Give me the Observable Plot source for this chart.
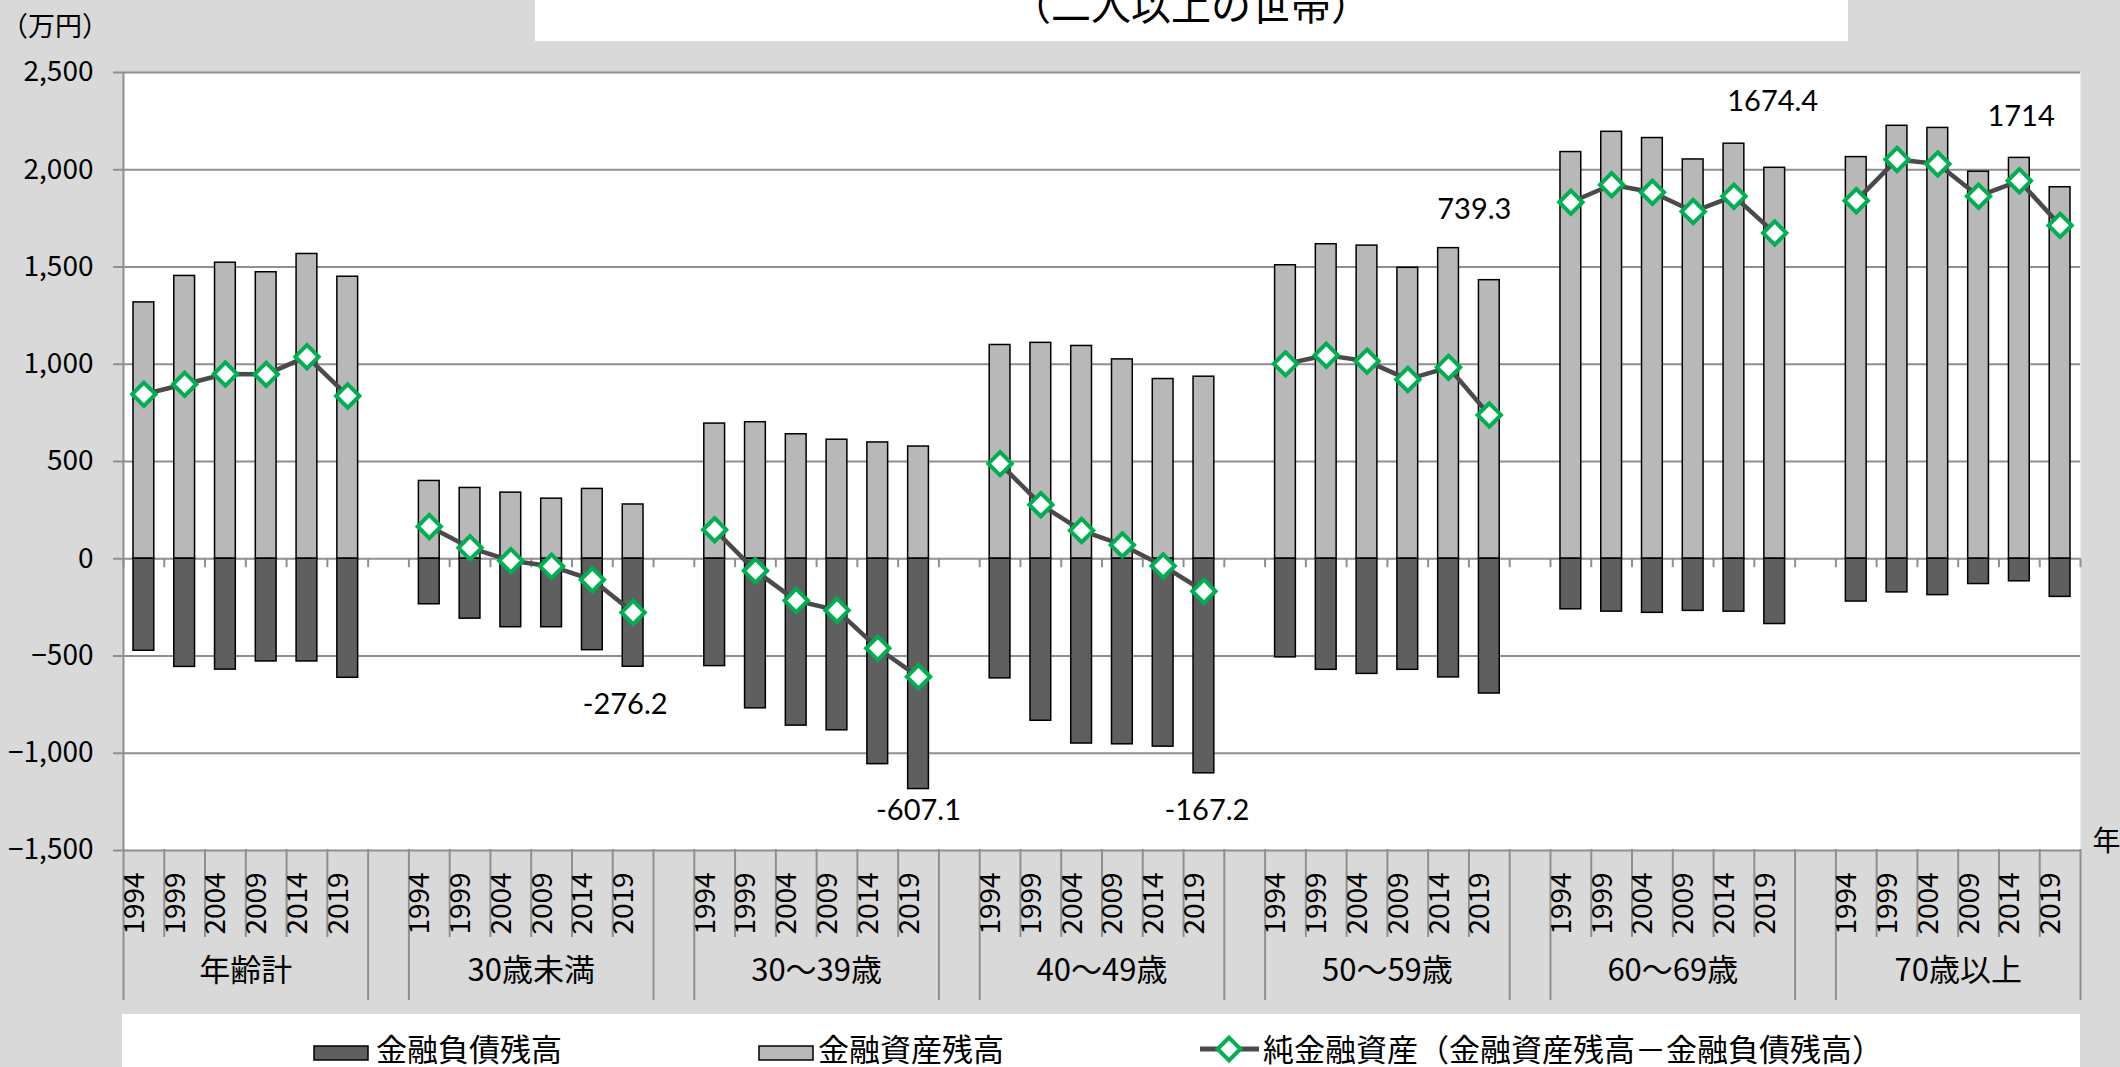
<!DOCTYPE html>
<html><head><meta charset="utf-8">
<script src="https://cdn.jsdelivr.net/npm/d3@7"></script>
<script src="https://cdn.jsdelivr.net/npm/@observablehq/plot@0.6"></script>
<style>
html,body{margin:0;padding:0;background:#d9d9d9;width:2120px;height:1067px;overflow:hidden;}
#wrap{position:relative;width:2120px;height:1067px;font-family:'Noto Sans CJK JP',sans-serif;}
#chart{position:absolute;left:0;top:0;}
.ov{position:absolute;left:0;}
#chart [aria-label="y-axis tick"]{stroke:#8f8f8f;}
#chart [aria-label="y-axis tick label"]{fill:#000;stroke:none;}
</style></head><body>
<div id="wrap">
<div id="chart"></div>
<svg class="ov" id="head" style="top:0" width="2120" height="60"></svg>
<svg class="ov" id="legend" style="top:1013px" width="2120" height="54"></svg>
</div>
<script>
// ---- data ----
const groups = ["年齢計","30歳未満","30～39歳","40～49歳","50～59歳","60～69歳","70歳以上"];
const years = ["1994","1999","2004","2009","2014","2019"];
// 金融資産残高 (万円)
const assets = [
  [1318, 1454, 1522, 1473, 1567, 1450],
  [400, 364, 340, 309, 359, 279],
  [695, 702, 640, 612, 598, 577],
  [1099, 1110, 1094, 1025, 924, 936],
  [1509, 1617, 1610, 1496, 1597, 1432.3],
  [2091, 2195, 2163, 2053, 2134, 2010],
  [2065, 2226, 2215, 1990, 2061, 1910]
];
// 金融負債残高 (万円)
const debts = [
  [473, 556, 570, 528, 528, 612],
  [234, 308, 352, 352, 470, 555.2],
  [552, 769, 858, 882, 1056, 1184.1],
  [615, 833, 950, 954, 966, 1103.2],
  [507, 571, 592, 571, 610, 693],
  [260, 272, 278, 268, 272, 335.6],
  [220, 173, 187, 130, 116, 196]
];
// 純金融資産 (万円)
const net = [
  [846, 897, 950, 948, 1039, 837],
  [166, 56, -10, -39, -108, -276.2],
  [149, -62, -215, -265, -460, -607.1],
  [489, 278, 145, 71, -37, -167.2],
  [1002, 1046, 1016, 922, 984, 739.3],
  [1833, 1923, 1884, 1785, 1864, 1674.4],
  [1841, 2053, 2030, 1864, 1943, 1714]
];
const yTicks = [-1500, -1000, -500, 0, 500, 1000, 1500, 2000, 2500];
const seriesNames = ["金融負債残高", "金融資産残高", "純金融資産（金融資産残高－金融負債残高）"];
const labeledGroups = [1, 2, 3, 4, 5, 6]; // 2019 values labelled
const unitLabel = "（万円）";
const xUnitLabel = "年";
const subtitle = "（二人以上の世帯）";

// ---- style / layout ----
const FONT = "'Noto Sans CJK JP', sans-serif";
const NUMFONT = "Lato, 'Noto Sans', sans-serif";
const GRID = "#8f8f8f", ASSET = "#b8b8b8", DEBT = "#5f5f5f", LINE = "#4a4a4a", GREEN = "#00b050";
const labelNudge = {1: [-8, 38], 2: [0, 22], 3: [3, 37], 4: [-15, -70], 5: [-2, -66], 6: [-39, -71]};

const slotsPer = years.length + 1;
const nSlots = groups.length * slotsPer - 1;
const rows = groups.flatMap((g, gi) => years.map((yr, yi) => ({
  group: g, gi, year: yr, slot: gi * slotsPer + yi,
  asset: assets[gi][yi], debt: debts[gi][yi], net: net[gi][yi]
})));
const boundaries = d3.range(0, nSlots + 1);
const yearLines = groups.flatMap((g, gi) => d3.range(1, years.length).map(k => gi * slotsPer + k));
const groupLines = groups.flatMap((g, gi) => [gi * slotsPer, gi * slotsPer + years.length]);

const labelMarks = labeledGroups.map(gi => {
  const d = rows.find(r => r.gi === gi && r.year === years[years.length - 1]);
  const [dx, dy] = labelNudge[gi];
  return Plot.text([d], {
    x: r => r.slot + 0.5, y: r => r.net < 0 ? -r.debt : r.asset,
    text: r => String(r.net), dx, dy, fontSize: 29, fontFamily: NUMFONT, fill: "#000"
  });
});

const chart = Plot.plot({
  width: 2120, height: 1013,
  marginTop: 72, marginBottom: 163, marginLeft: 123, marginRight: 40,
  style: {fontFamily: FONT, background: "transparent", overflow: "visible", color: "#000"},
  x: {domain: [0, nSlots], axis: null},
  y: {domain: [-1500, 2500], axis: null, label: null},
  marks: [
    Plot.frame({fill: "white", stroke: null}),
    Plot.ruleY(yTicks, {stroke: GRID, strokeWidth: 2}),
    Plot.ruleX([0], {stroke: GRID, strokeWidth: 2}),
    Plot.axisY({ticks: yTicks, label: null, tickSize: 10, tickPadding: 20, tickFormat: d3.format(","), fontSize: 28, stroke: GRID, strokeWidth: 2, fill: "#000"}),
    Plot.ruleX(boundaries, {y1: 0, y2: -46, stroke: GRID, strokeWidth: 2}),
    Plot.ruleX(yearLines, {insetTop: 777, insetBottom: -87, stroke: GRID, strokeWidth: 2}),
    Plot.ruleX(groupLines, {insetTop: 777, insetBottom: -150, stroke: GRID, strokeWidth: 2}),
    Plot.rectY(rows, {x1: "slot", x2: d => d.slot + 1, y1: 0, y2: "asset", insetLeft: 10, insetRight: 10, fill: ASSET, stroke: "#000", strokeWidth: 1.5}),
    Plot.rectY(rows, {x1: "slot", x2: d => d.slot + 1, y1: 0, y2: d => -d.debt, insetLeft: 10, insetRight: 10, fill: DEBT, stroke: "#000", strokeWidth: 1.5}),
    Plot.line(rows, {x: d => d.slot + 0.5, y: "net", z: "group", stroke: LINE, strokeWidth: 4.5}),
    Plot.dot(rows, {x: d => d.slot + 0.5, y: "net", symbol: "diamond2", r: 10.5, fill: "white", stroke: GREEN, strokeWidth: 4}),
    ...labelMarks,
    Plot.text(rows, {x: d => d.slot + 0.5, text: "year", frameAnchor: "bottom", dy: 53, rotate: -90, fontSize: 28, fill: "#000"}),
    Plot.text(groups, {x: (d, i) => i * slotsPer + years.length / 2, text: d => d, frameAnchor: "bottom", dy: 130, fontSize: 31, fill: "#000"}),
    Plot.text([xUnitLabel], {text: d => d, frameAnchor: "bottom-right", dx: 12, textAnchor: "start", fontSize: 28, fill: "#000"})
  ]
});
document.getElementById("chart").append(chart);

// header: subtitle box and unit label
const head = d3.select("#head");
head.append("rect").attr("x", 535).attr("y", 0).attr("width", 1313).attr("height", 41).attr("fill", "#fff");
head.append("text").attr("x", 1191).attr("y", 20).attr("text-anchor", "middle")
  .attr("font-family", FONT).attr("font-size", 40).text(subtitle);
head.append("text").attr("x", 1).attr("y", 36).attr("font-family", FONT).attr("font-size", 27).text(unitLabel);

// legend
const lg = d3.select("#legend");
lg.append("rect").attr("x", 122).attr("y", 1).attr("width", 1958).attr("height", 60).attr("fill", "#fff");
lg.append("rect").attr("x", 314).attr("y", 33).attr("width", 54).attr("height", 14).attr("fill", DEBT).attr("stroke", "#000").attr("stroke-width", 1.5);
lg.append("text").attr("x", 376).attr("y", 48).attr("font-family", FONT).attr("font-size", 31).text(seriesNames[0]);
lg.append("rect").attr("x", 759).attr("y", 33).attr("width", 54).attr("height", 14).attr("fill", ASSET).attr("stroke", "#000").attr("stroke-width", 1.5);
lg.append("text").attr("x", 818).attr("y", 48).attr("font-family", FONT).attr("font-size", 31).text(seriesNames[1]);
lg.append("line").attr("x1", 1200).attr("x2", 1259).attr("y1", 36).attr("y2", 36).attr("stroke", LINE).attr("stroke-width", 5);
lg.append("path").attr("d", d3.symbol(d3.symbolDiamond2, 330)()).attr("transform", "translate(1229,36)")
  .attr("fill", "#fff").attr("stroke", GREEN).attr("stroke-width", 4);
lg.append("text").attr("x", 1263).attr("y", 48).attr("font-family", FONT).attr("font-size", 31).text(seriesNames[2]);
</script>
</body></html>
